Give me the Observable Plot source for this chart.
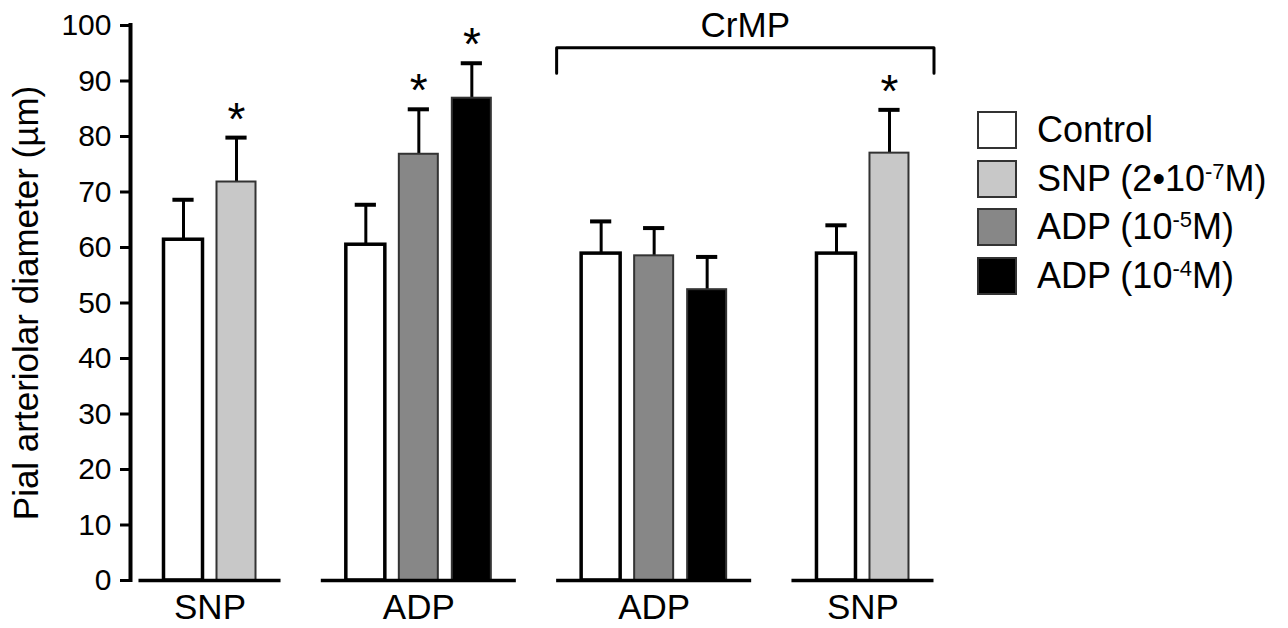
<!DOCTYPE html>
<html>
<head>
<meta charset="utf-8">
<script src="https://cdn.jsdelivr.net/npm/d3@7"></script>
<script src="https://cdn.jsdelivr.net/npm/@observablehq/plot@0.6"></script>
<style>
  body { margin: 0; background: white; }
  #wrap { position: relative; width: 1288px; height: 628px; font-family: "Liberation Sans", Arial, sans-serif; }
  #legend { position: absolute; left: 977px; top: 111px; }
  .item { display: flex; align-items: center; height: 38px; margin-bottom: 10.5px; }
  .sw { width: 36px; height: 34px; border: 2px solid #333; margin-right: 20px; }
  .lab { font-size: 36px; color: #000; white-space: nowrap; line-height: 38px; }
  .lab sup { font-size: 22px; vertical-align: 0.55em; line-height: 0; }
</style>
</head>
<body>
<div id="wrap"><div id="legend"></div></div>
<script>
// ---- data ----
const groups = ["SNP", "ADP", "ADP", "SNP"];
const panels = ["", "", "CrMP", "CrMP"];
const conditions = ["Control", "SNP (2•10-7M)", "ADP (10-5M)", "ADP (10-4M)"];
const conditionHTML = ["Control", "SNP (2•10<sup>-7</sup>M)", "ADP (10<sup>-5</sup>M)", "ADP (10<sup>-4</sup>M)"];
const conditionColors = ["#ffffff", "#c8c8c8", "#878787", "#000000"];
const barGroup = [0, 0, 1, 1, 1, 2, 2, 2, 3, 3];
const barCond = [0, 1, 0, 2, 3, 0, 2, 3, 0, 1];
const means = [61.4, 71.8, 60.5, 76.8, 86.9, 58.9, 58.5, 52.4, 58.9, 77.0];
const sems = [7.2, 8.0, 7.2, 8.1, 6.3, 5.8, 5.0, 5.9, 5.1, 7.8];
const significant = [false, true, false, true, true, false, false, false, false, true];
const yTicks = [0, 10, 20, 30, 40, 50, 60, 70, 80, 90, 100];
const yLabel = "Pial arteriolar diameter (µm)";

// ---- layout (slot positions computed from indices) ----
const groupGap = 2.44, halfBar = 0.368, halfCap = 0.2, baseExt = 0.84;
let p = 0;
const bars = means.map((m, i) => {
  if (i > 0) p += barGroup[i] !== barGroup[i - 1] ? groupGap : 1;
  return {pos: p, group: barGroup[i], cond: conditions[barCond[i]], control: barCond[i] === 0,
          mean: m, top: m + sems[i], sig: significant[i]};
});
const groupData = groups.map((g, k) => {
  const b = bars.filter(d => d.group === k);
  const first = b[0].pos, last = b[b.length - 1].pos;
  return {label: g, panel: panels[k], x1: first - baseExt, x2: last + baseExt, center: (first + last) / 2};
});
const crmp = groupData.filter(d => d.panel === "CrMP");
const bx1 = d3.min(crmp, d => d.x1), bx2 = d3.max(crmp, d => d.x2);
const bracketTop = 96, bracketEnd = 91.4;
const bracket = [{x: bx1, y: bracketEnd}, {x: bx1, y: bracketTop}, {x: bx2, y: bracketTop}, {x: bx2, y: bracketEnd}];

const chart = Plot.plot({
  width: 1288, height: 628,
  marginLeft: 130, marginRight: 328, marginTop: 25, marginBottom: 48,
  style: {fontFamily: "'Liberation Sans', Arial, sans-serif", fontSize: "28px", color: "#000", background: "white"},
  x: {type: "linear", domain: [-1, 14.66], axis: null},
  y: {domain: [0, 100], axis: null},
  color: {domain: conditions, range: conditionColors},
  marks: [
    Plot.ruleX([-1], {stroke: "#000", strokeWidth: 4, strokeLinecap: "square"}),
    Plot.axisY({ticks: yTicks, tickSize: 10, tickPadding: 9, strokeWidth: 3, fontSize: 30, label: null}),
    Plot.ruleX(bars, {x: "pos", y1: "mean", y2: "top", stroke: "#000", strokeWidth: 3}),
    Plot.ruleY(bars, {y: "top", x1: d => d.pos - halfCap, x2: d => d.pos + halfCap, stroke: "#000", strokeWidth: 4}),
    Plot.rectY(bars.filter(d => d.control), {x1: d => d.pos - halfBar, x2: d => d.pos + halfBar, y1: 0, y2: "mean", fill: "cond", stroke: "#000", strokeWidth: 3.5}),
    Plot.rectY(bars.filter(d => !d.control), {x1: d => d.pos - halfBar, x2: d => d.pos + halfBar, y1: 0, y2: "mean", fill: "cond", stroke: "#333", strokeWidth: 2}),
    Plot.ruleY(groupData, {y: 0, x1: "x1", x2: "x2", stroke: "#000", strokeWidth: 3.5}),
    Plot.text(bars.filter(d => d.sig), {x: "pos", y: "top", text: () => "*", fontSize: 46, lineAnchor: "bottom", dy: -3}),
    Plot.text(groupData, {x: "center", frameAnchor: "bottom", text: "label", fontSize: 35, lineAnchor: "bottom", dy: 38}),
    Plot.line(bracket, {x: "x", y: "y", stroke: "#000", strokeWidth: 3}),
    Plot.text(["CrMP"], {x: (bx1 + bx2) / 2, y: bracketTop, text: d => d, fontSize: 35, lineAnchor: "bottom", dy: -11}),
    Plot.text([yLabel], {frameAnchor: "left", textAnchor: "middle", rotate: -90, text: d => d, fontSize: 35, lineAnchor: "bottom", dx: -93})
  ]
});
document.getElementById("wrap").prepend(chart);

const legend = document.getElementById("legend");
conditions.forEach((c, i) => {
  const item = document.createElement("div");
  item.className = "item";
  item.innerHTML = `<div class="sw" style="background:${conditionColors[i]}"></div><div class="lab">${conditionHTML[i]}</div>`;
  legend.appendChild(item);
});
</script>
</body>
</html>
